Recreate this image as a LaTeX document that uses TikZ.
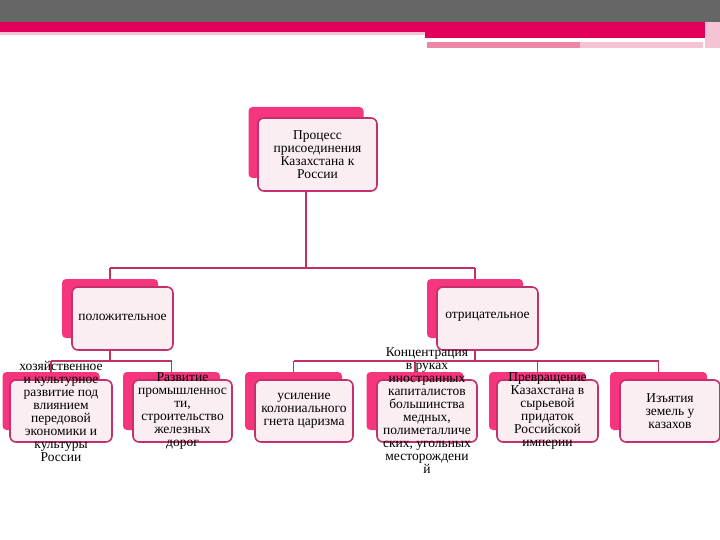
\documentclass[tikz,border=0pt]{standalone}
\usepackage{fontspec}
\setmainfont{Liberation Serif}
\usetikzlibrary{positioning}

\definecolor{barGrey}{HTML}{666666}
\definecolor{barRed}{HTML}{E3005C}
\definecolor{barPink}{HTML}{EC87A8}
\definecolor{barPinkLight}{HTML}{F5C3D3}
\definecolor{backPink}{HTML}{F5367E}
\definecolor{frontFill}{HTML}{FBEEF3}
\definecolor{frontBorder}{HTML}{C4306C}
\definecolor{lineColour}{HTML}{C2325F}

\tikzset{
  backbox/.style={fill=backPink, rounded corners=4pt, inner sep=0pt, outer sep=0pt,
    minimum width=97pt, minimum height=58pt},
  frontbox/.style={fill=frontFill, draw=frontBorder, line width=1.6pt, rounded corners=6pt,
    inner sep=0pt, outer sep=0pt, minimum width=100pt, minimum height=62pt},
  boxtext/.style={align=center, inner sep=0pt, font=\fontsize{13.5}{13}\selectfont},
  conn/.style={draw=lineColour, line width=1.6pt}
}

\begin{document}
\begin{tikzpicture}[x=1pt, y=-1pt]
    \useasboundingbox (0,0) rectangle (720,540);

    % Header bar
    \fill[barGrey] (0,0) rectangle (720,22);
    \fill[barRed] (0,22) rectangle (705,32);
    \fill[barPinkLight] (0,32) rectangle (425,35);
    \fill[barRed] (425,32) rectangle (705,38);
    \fill[barPink] (427,42) rectangle (580,48);
    \fill[barPinkLight] (580,42) rectangle (703,48);
    \fill[barPinkLight] (705,22) rectangle (720,48);

    % Back boxes
    \node[backbox, minimum width=115pt, minimum height=71pt] (rootb) at (306,142.5) {};
    \node[backbox, minimum width=96pt, minimum height=59pt] (posb) at (110,308.5) {};
    \node[backbox, minimum width=96pt, minimum height=59pt] (negb) at (475,308.5) {};
    \node[backbox] (g1b) at (51,401) {};
    \node[backbox] (g2b) at (171.5,401) {};
    \node[backbox] (g3b) at (293.5,401) {};
    \node[backbox] (g4b) at (415,401) {};
    \node[backbox] (g5b) at (537.5,401) {};
    \node[backbox] (g6b) at (658.5,401) {};

    % Connectors
    \coordinate (busA) at (0,268);
    \coordinate (busB) at (0,361);
    \draw[conn] (rootb.south) -- (rootb.center |- busA);
    \draw[conn] (posb.center |- busA) -- (negb.center |- busA);
    \draw[conn] (posb.center |- busA) -- (posb.north);
    \draw[conn] (negb.center |- busA) -- (negb.north);
    \draw[conn] (posb.south) -- (posb.center |- busB);
    \draw[conn] (negb.south) -- (negb.center |- busB);
    \draw[conn] (g1b.center |- busB) -- (g2b.center |- busB);
    \draw[conn] (g3b.center |- busB) -- (g6b.center |- busB);
    \foreach \g in {g1b,g2b,g3b,g4b,g5b,g6b}
        \draw[conn] (\g.center |- busB) -- (\g.north);

    % Front boxes
    \node[frontbox, minimum width=119pt, minimum height=73pt] (root) at (317.5,154.5) {};
    \node[frontbox, minimum width=101pt, minimum height=63pt] (pos) at (122.5,318.5) {};
    \node[frontbox, minimum width=101pt, minimum height=63pt] (neg) at (487.5,318.5) {};
    \node[frontbox, minimum width=102pt] (g1) at (61,411) {};
    \node[frontbox, minimum width=99pt] (g2) at (182.5,411) {};
    \node[frontbox, minimum width=98pt] (g3) at (304,411) {};
    \node[frontbox] (g4) at (427,411) {};
    \node[frontbox, minimum width=101pt] (g5) at (547.5,411) {};
    \node[frontbox] (g6) at (670,411) {};

    % Texts
    \node[boxtext] (roott) at (root) {Процесс\\присоединения\\Казахстана к\\России};
    \node[boxtext] (post) at ([yshift=1.5]pos.center) {положительное};
    \node[boxtext] (negt) at ([yshift=1.5]neg.center) {отрицательное};
    \node[boxtext] (g1t) at (g1) {хозяйственное\\и культурное\\развитие под\\влиянием\\передовой\\экономики и\\культуры\\России};
    \node[boxtext] (g2t) at (g2) {Развитие\\промышленнос\\ти,\\строительство\\железных\\дорог};
    \node[boxtext] (g3t) at (g3) {усиление\\колониального\\гнета царизма};
    \node[boxtext] (g4t) at (g4) {Концентрация\\в руках\\иностранных\\капиталистов\\большинства\\медных,\\полиметалличе\\ских, угольных\\месторождени\\й};
    \node[boxtext] (g5t) at (g5) {Превращение\\Казахстана в\\сырьевой\\придаток\\Российской\\империи};
    \node[boxtext] (g6t) at (g6) {Изъятия\\земель у\\казахов};

\end{tikzpicture}
\end{document}
